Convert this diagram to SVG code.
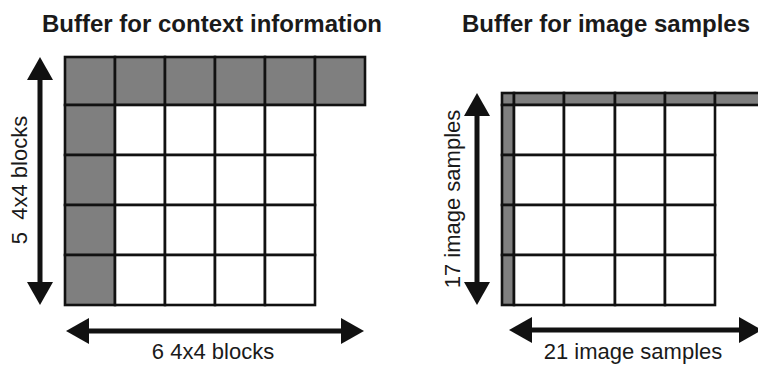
<svg xmlns="http://www.w3.org/2000/svg" width="758" height="365" viewBox="0 0 758 365">
  <style>
    .title { font-family: "Liberation Sans", Arial, sans-serif; font-weight: bold; font-size: 24px; fill: #1a1a1a; text-anchor: middle; }
    .label { font-family: "Liberation Sans", Arial, sans-serif; font-size: 22px; fill: #1a1a1a; text-anchor: middle; }
    .ctx { fill: #7f7f7f; stroke: #111; stroke-width: 2.6; }
    .cell { fill: #ffffff; stroke: #111; stroke-width: 2.6; }
    .shaft { stroke: #111; stroke-width: 5; fill: none; marker-start: url(#head); marker-end: url(#head); }
  </style>
  <defs>
    <marker id="head" markerUnits="userSpaceOnUse" markerWidth="24" markerHeight="27" viewBox="0 0 24 27" refX="2" refY="13.5" orient="auto-start-reverse">
      <path d="M0,0.5 L23,13.5 L0,26.5 Z" fill="#111"/>
    </marker>
  </defs>

  <rect width="758" height="365" fill="#ffffff"/>

  <!-- context buffer: 6 x 5 blocks of 4x4 -->
  <g id="context-buffer">
    <text class="title" x="212" y="32">Buffer for context information</text>
    <g id="context-top-row">
      <rect class="ctx" x="65" y="57" width="50" height="48"/>
      <rect class="ctx" x="115" y="57" width="50" height="48"/>
      <rect class="ctx" x="165" y="57" width="50" height="48"/>
      <rect class="ctx" x="215" y="57" width="50" height="48"/>
      <rect class="ctx" x="265" y="57" width="50" height="48"/>
      <rect class="ctx" x="315" y="57" width="50" height="48"/>
    </g>
    <g id="context-left-col">
      <rect class="ctx" x="65" y="105" width="50" height="50"/>
      <rect class="ctx" x="65" y="155" width="50" height="50"/>
      <rect class="ctx" x="65" y="205" width="50" height="50"/>
      <rect class="ctx" x="65" y="255" width="50" height="50"/>
    </g>
    <g id="context-blocks">
      <rect class="cell" x="115" y="105" width="50" height="50"/>
      <rect class="cell" x="165" y="105" width="50" height="50"/>
      <rect class="cell" x="215" y="105" width="50" height="50"/>
      <rect class="cell" x="265" y="105" width="50" height="50"/>
      <rect class="cell" x="115" y="155" width="50" height="50"/>
      <rect class="cell" x="165" y="155" width="50" height="50"/>
      <rect class="cell" x="215" y="155" width="50" height="50"/>
      <rect class="cell" x="265" y="155" width="50" height="50"/>
      <rect class="cell" x="115" y="205" width="50" height="50"/>
      <rect class="cell" x="165" y="205" width="50" height="50"/>
      <rect class="cell" x="215" y="205" width="50" height="50"/>
      <rect class="cell" x="265" y="205" width="50" height="50"/>
      <rect class="cell" x="115" y="255" width="50" height="50"/>
      <rect class="cell" x="165" y="255" width="50" height="50"/>
      <rect class="cell" x="215" y="255" width="50" height="50"/>
      <rect class="cell" x="265" y="255" width="50" height="50"/>
    </g>
    <text class="label" x="213" y="359">6 4x4 blocks</text>
    <text class="label" transform="translate(27,180) rotate(-90)" xml:space="preserve">5  4x4 blocks</text>
  </g>

  <!-- image sample buffer: 21 x 17 samples -->
  <g id="image-buffer">
    <text class="title" x="606" y="32">Buffer for image samples</text>
    <g id="image-top-row">
      <rect class="ctx" x="502" y="93" width="12" height="12"/>
      <rect class="ctx" x="514" y="93" width="50" height="12"/>
      <rect class="ctx" x="564" y="93" width="51" height="12"/>
      <rect class="ctx" x="615" y="93" width="50" height="12"/>
      <rect class="ctx" x="665" y="93" width="50" height="12"/>
      <rect class="ctx" x="715" y="93" width="60" height="12"/>
    </g>
    <g id="image-left-col">
      <rect class="ctx" x="502" y="105" width="12" height="50"/>
      <rect class="ctx" x="502" y="155" width="12" height="50"/>
      <rect class="ctx" x="502" y="205" width="12" height="50"/>
      <rect class="ctx" x="502" y="255" width="12" height="50"/>
    </g>
    <g id="image-blocks">
      <rect class="cell" x="514" y="105" width="50" height="50"/>
      <rect class="cell" x="564" y="105" width="51" height="50"/>
      <rect class="cell" x="615" y="105" width="50" height="50"/>
      <rect class="cell" x="665" y="105" width="50" height="50"/>
      <rect class="cell" x="514" y="155" width="50" height="50"/>
      <rect class="cell" x="564" y="155" width="51" height="50"/>
      <rect class="cell" x="615" y="155" width="50" height="50"/>
      <rect class="cell" x="665" y="155" width="50" height="50"/>
      <rect class="cell" x="514" y="205" width="50" height="50"/>
      <rect class="cell" x="564" y="205" width="51" height="50"/>
      <rect class="cell" x="615" y="205" width="50" height="50"/>
      <rect class="cell" x="665" y="205" width="50" height="50"/>
      <rect class="cell" x="514" y="255" width="50" height="50"/>
      <rect class="cell" x="564" y="255" width="51" height="50"/>
      <rect class="cell" x="615" y="255" width="50" height="50"/>
      <rect class="cell" x="665" y="255" width="50" height="50"/>
    </g>
    <text class="label" x="633" y="359">21 image samples</text>
    <text class="label" transform="translate(460,199) rotate(-90)">17 image samples</text>
  </g>

  <!-- dimension arrows -->
  <g id="connectors">
    <line class="shaft" x1="40" y1="78" x2="40" y2="284"/>
    <line class="shaft" x1="87" y1="331" x2="343" y2="331"/>
    <line class="shaft" x1="477" y1="114" x2="477" y2="284"/>
    <line class="shaft" x1="530" y1="330" x2="741" y2="330"/>
  </g>
</svg>
